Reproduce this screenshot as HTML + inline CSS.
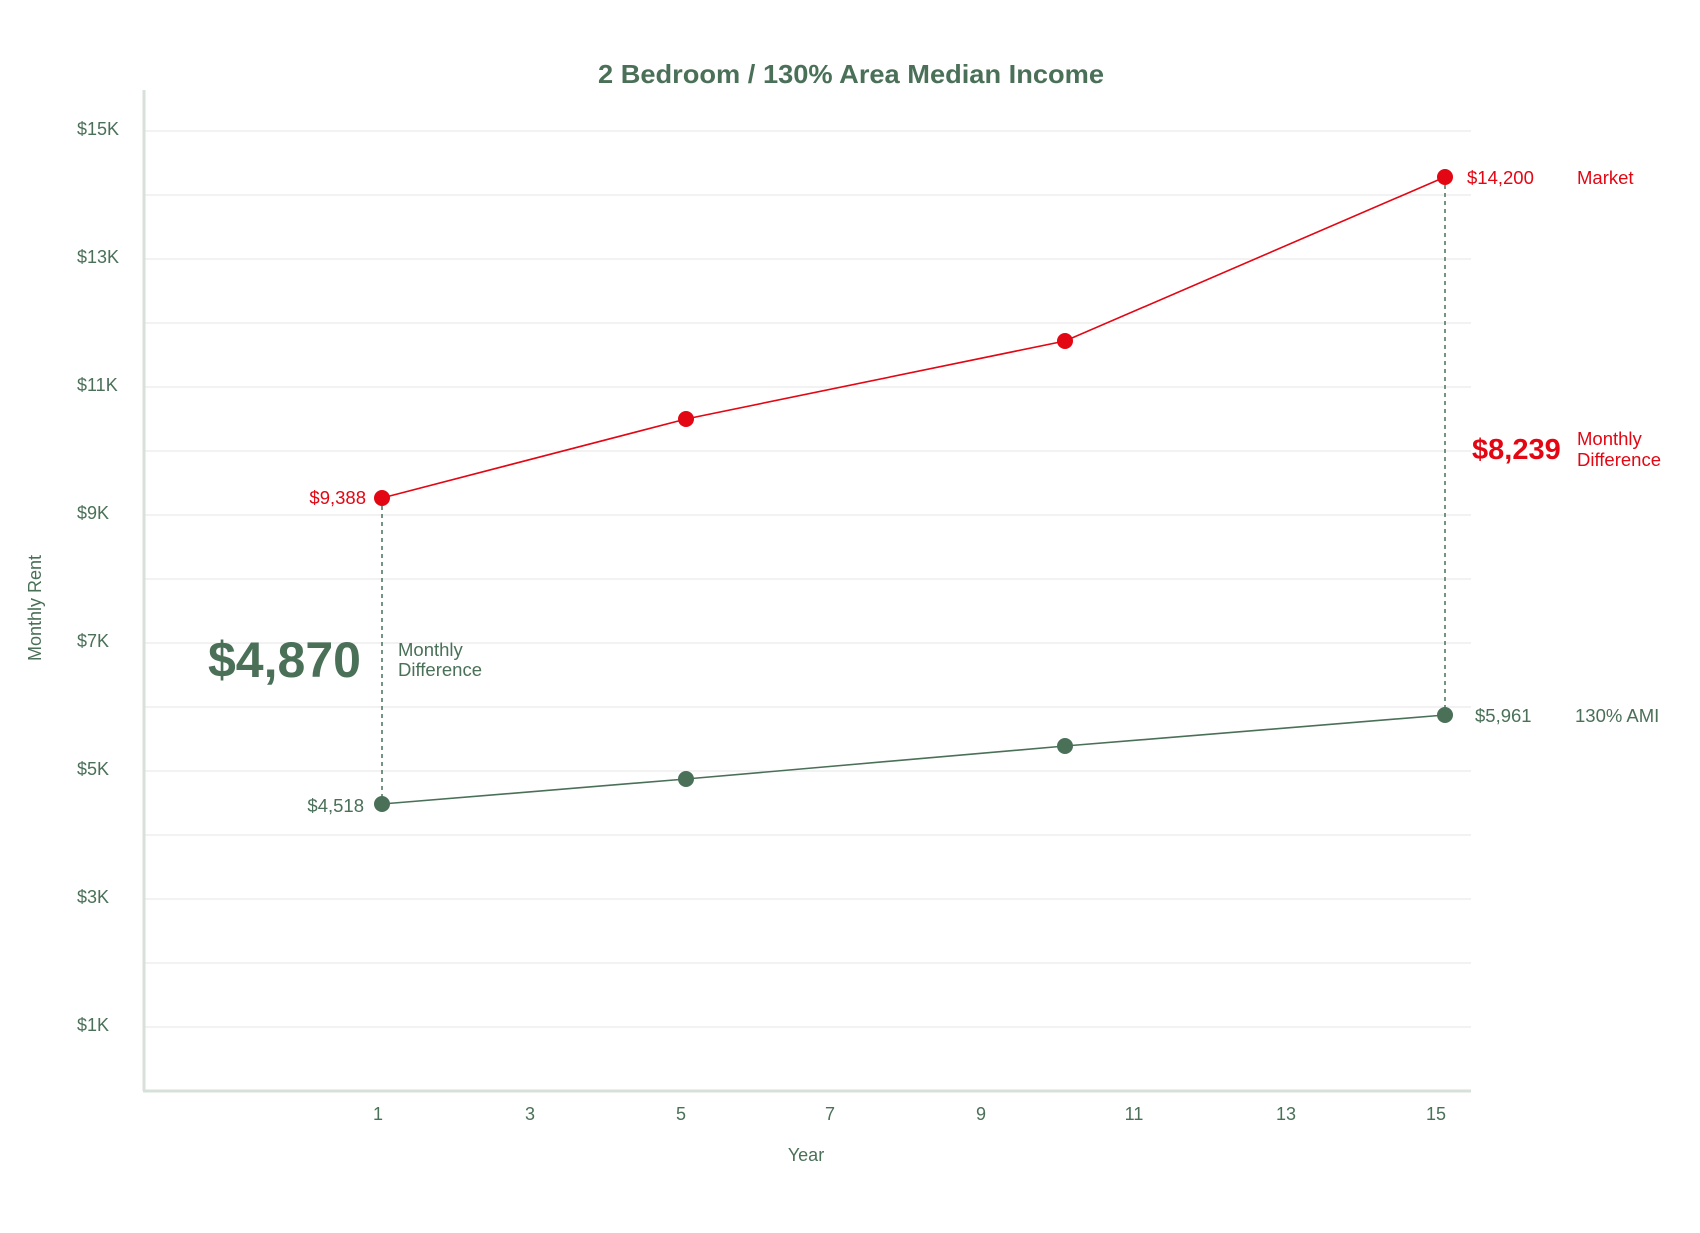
<!DOCTYPE html>
<html><head><meta charset="utf-8"><style>
html,body{margin:0;padding:0;background:#fff;}
svg{display:block;}
text{font-family:"Liberation Sans",sans-serif;}
</style></head><body>
<svg width="1700" height="1233" viewBox="0 0 1700 1233" xmlns="http://www.w3.org/2000/svg">
<g stroke="#ebebeb" stroke-width="1.3">
<line x1="145" y1="131" x2="1471" y2="131"/>
<line x1="145" y1="195" x2="1471" y2="195"/>
<line x1="145" y1="259" x2="1471" y2="259"/>
<line x1="145" y1="323" x2="1471" y2="323"/>
<line x1="145" y1="387" x2="1471" y2="387"/>
<line x1="145" y1="451" x2="1471" y2="451"/>
<line x1="145" y1="515" x2="1471" y2="515"/>
<line x1="145" y1="579" x2="1471" y2="579"/>
<line x1="145" y1="643" x2="1471" y2="643"/>
<line x1="145" y1="707" x2="1471" y2="707"/>
<line x1="145" y1="771" x2="1471" y2="771"/>
<line x1="145" y1="835" x2="1471" y2="835"/>
<line x1="145" y1="899" x2="1471" y2="899"/>
<line x1="145" y1="963" x2="1471" y2="963"/>
<line x1="145" y1="1027" x2="1471" y2="1027"/>
</g>
<line x1="144" y1="90" x2="144" y2="1091" stroke="#d8e0da" stroke-width="3"/>
<line x1="143" y1="1091" x2="1471" y2="1091" stroke="#d8e0da" stroke-width="3"/>
<text x="598" y="83" font-size="26" font-weight="bold" fill="#4a7058" textLength="506" lengthAdjust="spacingAndGlyphs">2 Bedroom / 130% Area Median Income</text>
<g font-size="18" fill="#4a7058">
<text x="77" y="135">$15K</text>
<text x="77" y="263">$13K</text>
<text x="77" y="391">$11K</text>
<text x="77" y="519">$9K</text>
<text x="77" y="647">$7K</text>
<text x="77" y="775">$5K</text>
<text x="77" y="903">$3K</text>
<text x="77" y="1031">$1K</text>
</g>
<g font-size="18" fill="#4a7058" text-anchor="middle">
<text x="378" y="1120">1</text>
<text x="530" y="1120">3</text>
<text x="681" y="1120">5</text>
<text x="830" y="1120">7</text>
<text x="981" y="1120">9</text>
<text x="1134" y="1120">11</text>
<text x="1286" y="1120">13</text>
<text x="1436" y="1120">15</text>
<text x="806" y="1161">Year</text>
</g>
<text transform="translate(41,608) rotate(-90)" text-anchor="middle" font-size="18" fill="#4a7058">Monthly Rent</text>
<line x1="382" y1="498" x2="382" y2="804" stroke="#4a7058" stroke-width="1.5" stroke-dasharray="4,4"/>
<line x1="1445" y1="177" x2="1445" y2="715" stroke="#4a7058" stroke-width="1.5" stroke-dasharray="4,4"/>
<polyline points="382,498 686,419 1065,341 1445,177" fill="none" stroke="#e30613" stroke-width="1.6"/>
<polyline points="382,804 686,779 1065,746 1445,715" fill="none" stroke="#4a7058" stroke-width="1.6"/>
<g fill="#e30613"><circle cx="382" cy="498" r="8"/><circle cx="686" cy="419" r="8"/><circle cx="1065" cy="341" r="8"/><circle cx="1445" cy="177" r="8"/></g>
<g fill="#4a7058"><circle cx="382" cy="804" r="8"/><circle cx="686" cy="779" r="8"/><circle cx="1065" cy="746" r="8"/><circle cx="1445" cy="715" r="8"/></g>
<g font-size="18.5" fill="#e30613">
<text x="366" y="504" text-anchor="end">$9,388</text>
<text x="1467" y="184">$14,200</text>
<text x="1577" y="184">Market</text>
<text x="1577" y="445">Monthly</text>
<text x="1577" y="466">Difference</text>
</g>
<text x="1472" y="459" font-size="29" font-weight="bold" fill="#e30613">$8,239</text>
<g font-size="18.5" fill="#4a7058">
<text x="364" y="812" text-anchor="end">$4,518</text>
<text x="1475" y="722">$5,961</text>
<text x="1575" y="722">130% AMI</text>
<text x="398" y="656">Monthly</text>
<text x="398" y="676">Difference</text>
</g>
<text x="208" y="677" font-size="50" font-weight="bold" fill="#4a7058">$4,870</text>
</svg>
</body></html>
